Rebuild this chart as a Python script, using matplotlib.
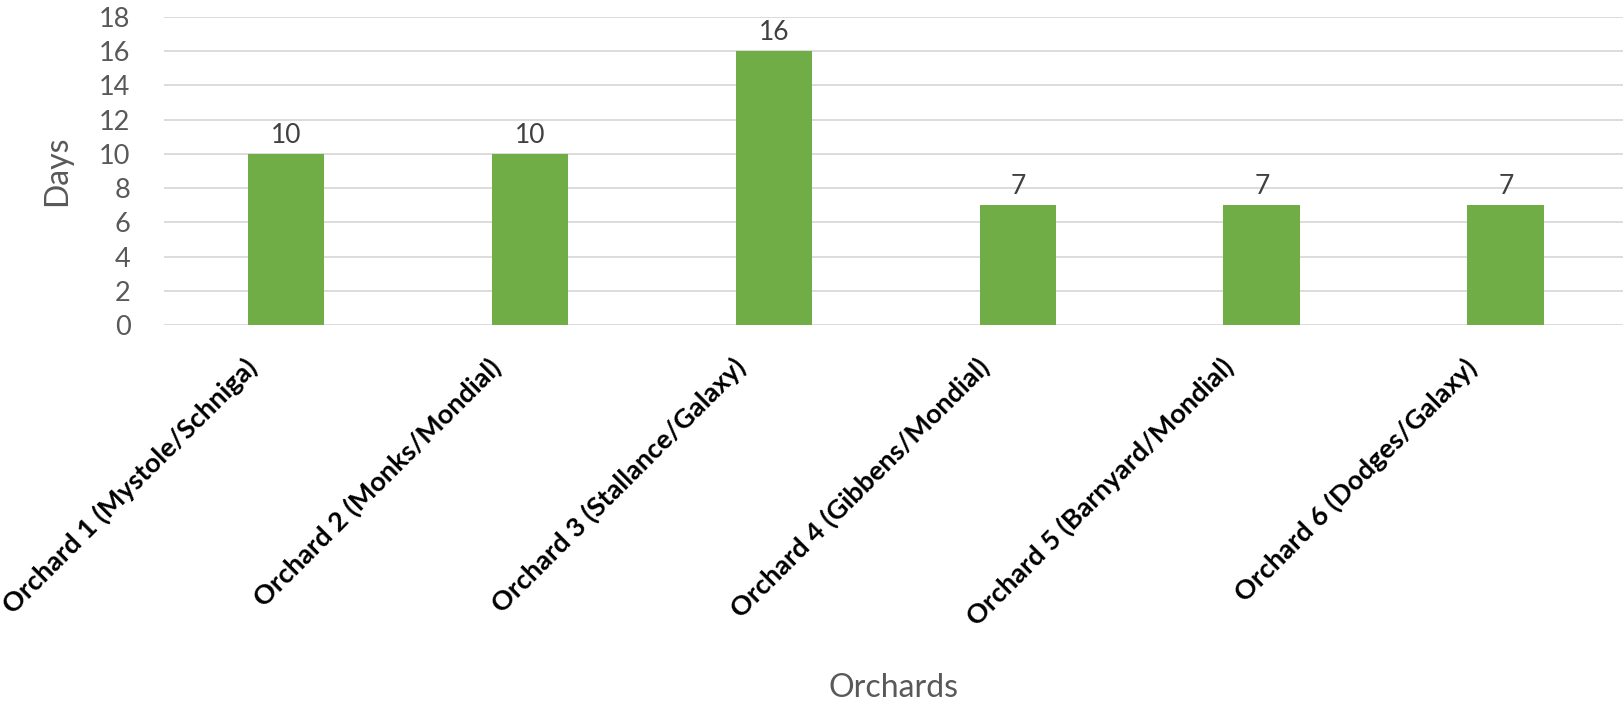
import matplotlib
matplotlib.use("Agg")
import matplotlib.pyplot as plt
from matplotlib.transforms import ScaledTranslation

plt.rcParams['font.family'] = ['Lato', 'DejaVu Sans']

# data
orchards = [
    "Orchard 1 (Mystole/Schniga)",
    "Orchard 2 (Monks/Mondial)",
    "Orchard 3 (Stallance/Galaxy)",
    "Orchard 4 (Gibbens/Mondial)",
    "Orchard 5 (Barnyard/Mondial)",
    "Orchard 6 (Dodges/Galaxy)",
]
days = [10, 10, 16, 7, 7, 7]
y_ticks = list(range(0, 19, 2))

W, H = 1623, 706
fig = plt.figure(figsize=(W / 100, H / 100), dpi=100)
ax = fig.add_axes([164 / W, 1 - 325 / H, 1 - 164 / W, (325 - 17) / H])

x = range(len(orchards))
ax.bar(x, days, width=0.315, color='#70AD47', zorder=3)

# value labels above bars
for xi, v in zip(x, days):
    ax.text(xi, v + 1.1, str(v), ha='center', va='center', fontsize=19, color='#404040')

ax.set_ylim(0, 18)
ax.set_xlim(-0.5, 5.48)
ax.set_yticks(y_ticks)
ax.yaxis.grid(True, color='#D9D9D9', linewidth=1.3, zorder=0)
ax.tick_params(axis='y', length=0, labelsize=19.5, labelcolor='#595959', pad=24)
ax.tick_params(axis='x', length=0, pad=0)
for s in ax.spines.values():
    s.set_visible(False)

ax.set_xticks(list(x))
ax.set_xticklabels(orchards, rotation=45, ha='right', va='center', rotation_mode='anchor',
                   fontsize=19.5, fontweight='bold', color='black')
shift = ScaledTranslation(-0.33, -0.38, fig.dpi_scale_trans)
for lbl in ax.get_xticklabels():
    lbl.set_transform(lbl.get_transform() + shift)

fig.text(57 / W, 1 - 171 / H, 'Days', rotation=90, ha='center', va='center',
         fontsize=23, color='#595959')
fig.text((164 + W) / 2 / W, 1 - 688 / H, 'Orchards', ha='center', va='center',
         fontsize=23, color='#595959')

fig.savefig('out.png', dpi=100, facecolor='white')
